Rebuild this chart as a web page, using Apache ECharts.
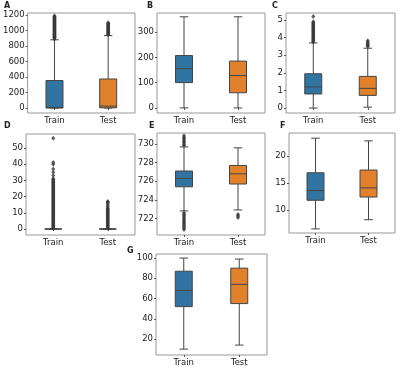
<!DOCTYPE html>
<html>
<head>
<meta charset="utf-8">
<script src="https://cdn.jsdelivr.net/npm/echarts@6/dist/echarts.min.js"></script>
<style>
  html, body { margin: 0; padding: 0; background: #fff; }
  #main { width: 400px; height: 374px; }
</style>
</head>
<body>
<div id="main"></div>
<script>
// categories
var groups = ['Train', 'Test'];
var colors = ['#3274a1', '#e1812c'];

// box stats: [min, Q1, median, Q3, max] for Train, Test
var boxA = [[0, 0, 8, 355, 880], [0, 3, 25, 375, 935]];
var boxB = [[0, 100, 155, 207, 360], [0, 60, 128, 185, 360]];
var boxC = [[0, 0.8, 1.2, 1.95, 3.7], [0.05, 0.72, 1.12, 1.8, 3.4]];
var boxD = [[0, 0, 0, 0, 0], [0, 0, 0, 0, 0]];
var boxE = [[722.8, 725.4, 726.3, 727.1, 729.7], [722.9, 725.7, 726.8, 727.7, 729.6]];
var boxF = [[6.5, 11.8, 13.6, 16.9, 23.3], [8.2, 12.4, 14.1, 17.4, 22.8]];
var boxG = [[10, 52, 68, 87, 100], [14, 55, 74, 90, 99]];

// outliers for Train, Test
var outA = [
  [892, 900, 907, 915, 922, 930, 938, 944, 951, 960, 968, 975, 983, 990, 998, 1006, 1013, 1021,
   1030, 1037, 1045, 1052, 1060, 1068, 1075, 1083, 1092, 1100, 1108, 1115, 1124, 1132, 1140,
   1148, 1156, 1164, 1172, 1180, 1188],
  [945, 955, 963, 972, 980, 990, 998, 1007, 1015, 1024, 1033, 1041, 1050, 1058, 1067, 1075,
   1084, 1092, 1100]
];
var outB = [[], []];
var outC = [
  [3.75, 3.8, 3.85, 3.9, 3.95, 4.0, 4.05, 4.1, 4.15, 4.2, 4.25, 4.3, 4.35, 4.4, 4.45, 4.5,
   4.55, 4.6, 4.65, 4.7, 4.75, 4.8, 4.85, 4.9, 5.2],
  [3.5, 3.55, 3.62, 3.68, 3.75, 3.82]
];
var outD = [
  [0.5, 1, 1.5, 2, 2.5, 3, 3.5, 4, 4.5, 5, 5.5, 6, 6.5, 7, 7.5, 8, 8.5, 9, 9.5, 10, 10.5, 11,
   11.5, 12, 12.5, 13, 13.5, 14, 14.5, 15, 15.5, 16, 16.5, 17, 17.5, 18, 18.5, 19, 19.5, 20,
   20.5, 21, 21.5, 22, 22.5, 23, 23.5, 24, 24.5, 25, 25.5, 26, 26.5, 27, 27.5, 28, 28.5, 29,
   29.5, 30, 30.5, 31, 33, 35, 37, 40, 41, 56],
  [0.5, 1, 1.5, 2, 2.5, 3, 3.5, 4, 4.5, 5, 5.5, 6, 6.5, 7, 7.5, 8, 8.5, 9, 9.5, 10, 10.5, 11,
   11.5, 12, 12.5, 13, 14, 15, 16, 16.5, 17]
];
var outE = [
  [720.8, 720.95, 721.1, 721.25, 721.4, 721.55, 721.7, 721.85, 722.0, 722.15, 722.3, 722.45,
   722.6, 729.85, 730.0, 730.15, 730.3, 730.45, 730.6, 730.75, 730.9],
  [722.1, 722.25, 722.4]
];
var outF = [[], []];
var outG = [[], []];

// tick labels and ranges
var ticksA = [0, 200, 400, 600, 800, 1000, 1200];
var ticksB = [0, 100, 200, 300];
var ticksC = [0, 1, 2, 3, 4, 5];
var ticksD = [0, 10, 20, 30, 40, 50];
var ticksE = [722, 724, 726, 728, 730];
var ticksF = [10, 15, 20];
var ticksG = [20, 40, 60, 80, 100];

var panels = [
  { name: 'A', box: boxA, out: outA, ticks: ticksA, min: -64, max: 1226 },
  { name: 'B', box: boxB, out: outB, ticks: ticksB, min: -20, max: 375 },
  { name: 'C', box: boxC, out: outC, ticks: ticksC, min: -0.28, max: 5.4 },
  { name: 'D', box: boxD, out: outD, ticks: ticksD, min: -3.7, max: 58.6 },
  { name: 'E', box: boxE, out: outE, ticks: ticksE, min: 720.2, max: 731.2 },
  { name: 'F', box: boxF, out: outF, ticks: ticksF, min: 5.74, max: 24.26 },
  { name: 'G', box: boxG, out: outG, ticks: ticksG, min: 4.2, max: 104 }
];

// layout: grid boxes and letter positions
var layout = [
  { left: 26, top: 13, width: 109, height: 100, lx: 4, ly: 2 },
  { left: 157, top: 13, width: 108, height: 100, lx: 147, ly: 2 },
  { left: 286, top: 13, width: 109, height: 100, lx: 272, ly: 2 },
  { left: 26, top: 134, width: 109, height: 101, lx: 4, ly: 122 },
  { left: 157, top: 133, width: 108, height: 102, lx: 149, ly: 122 },
  { left: 289, top: 133, width: 106, height: 100, lx: 280, ly: 122 },
  { left: 156, top: 254, width: 111, height: 101, lx: 127, ly: 247 }
];

var font = 'DejaVu Sans';
var edge = '#444';
var boxHalf = 8.5;
var grid = [], xAxis = [], yAxis = [], series = [], title = [];

// seaborn-like box: half-width caps, darker median
function renderBox(params, api) {
  var xi = api.value(0);
  var p0 = api.coord([xi, api.value(1)]);
  var p1 = api.coord([xi, api.value(2)]);
  var p2 = api.coord([xi, api.value(3)]);
  var p3 = api.coord([xi, api.value(4)]);
  var p4 = api.coord([xi, api.value(5)]);
  var cx = p0[0];
  var cap = boxHalf / 2;
  var ls = { stroke: edge, lineWidth: 1 };
  return {
    type: 'group',
    children: [
      { type: 'line', shape: { x1: cx, y1: p0[1], x2: cx, y2: p1[1] }, style: ls },
      { type: 'line', shape: { x1: cx, y1: p3[1], x2: cx, y2: p4[1] }, style: ls },
      { type: 'line', shape: { x1: cx - cap, y1: p0[1], x2: cx + cap, y2: p0[1] }, style: ls },
      { type: 'line', shape: { x1: cx - cap, y1: p4[1], x2: cx + cap, y2: p4[1] }, style: ls },
      { type: 'rect', shape: { x: cx - boxHalf, y: p3[1], width: boxHalf * 2, height: p1[1] - p3[1] },
        style: { fill: colors[xi], stroke: edge, lineWidth: 1 } },
      { type: 'line', shape: { x1: cx - boxHalf, y1: p2[1], x2: cx + boxHalf, y2: p2[1] }, style: ls }
    ]
  };
}

panels.forEach(function (p, i) {
  var L = layout[i];
  grid.push({
    left: L.left, top: L.top, width: L.width, height: L.height,
    show: true, borderColor: '#999', borderWidth: 1
  });
  title.push({
    text: p.name, left: L.lx, top: L.ly, padding: 0,
    textStyle: { fontFamily: font, fontSize: 8, fontWeight: 'bold', color: '#222' }
  });
  xAxis.push({
    type: 'category', gridIndex: i, data: groups,
    axisLine: { show: false },
    axisTick: { show: true, length: 2, alignWithLabel: true, lineStyle: { color: '#555' } },
    axisLabel: { fontFamily: font, fontSize: 8.5, color: '#222', margin: 3 },
    splitLine: { show: false }
  });
  yAxis.push({
    type: 'value', gridIndex: i, min: p.min, max: p.max,
    axisLine: { show: false },
    axisTick: { show: true, length: 2, customValues: p.ticks, lineStyle: { color: '#555' } },
    axisLabel: {
      fontFamily: font, fontSize: 8.5, color: '#222', margin: 3, customValues: p.ticks,
      formatter: function (v) { return String(v); }
    },
    splitLine: { show: false }
  });
  var pts = [];
  p.out.forEach(function (arr, j) {
    arr.forEach(function (v) { pts.push([j, v]); });
  });
  series.push({
    type: 'scatter', xAxisIndex: i, yAxisIndex: i,
    symbol: 'diamond', symbolSize: [4, 5],
    itemStyle: { color: '#3a3a3a' },
    data: pts
  });
  series.push({
    type: 'custom', xAxisIndex: i, yAxisIndex: i,
    renderItem: renderBox,
    encode: { x: 0, y: [1, 2, 3, 4, 5] },
    data: p.box.map(function (b, j) { return [j].concat(b); })
  });
});

var chart = echarts.init(document.getElementById('main'));
chart.setOption({
  animation: false,
  backgroundColor: '#fff',
  title: title,
  grid: grid,
  xAxis: xAxis,
  yAxis: yAxis,
  series: series
});
</script>
</body>
</html>
